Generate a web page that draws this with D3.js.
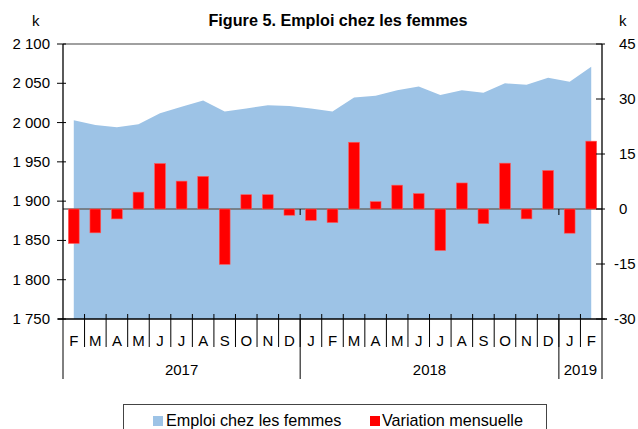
<!DOCTYPE html>
<html><head><meta charset="utf-8">
<script src="https://cdn.jsdelivr.net/npm/d3@7"></script>
<style>
body{margin:0;background:#fff;}
text{font-family:"Liberation Sans",Arial,sans-serif;fill:#000;}
</style></head>
<body><svg id="c" width="638" height="429"></svg>
<script>
const months = ["F","M","A","M","J","J","A","S","O","N","D","J","F","M","A","M","J","J","A","S","O","N","D","J","F"];
const years = [{label:"2017",start:0,end:11},{label:"2018",start:11,end:23},{label:"2019",start:23,end:25}];
const emploi = [2003,1997,1994,1998,2012,2020,2028,2014,2018,2022,2021,2018,2014,2032,2034,2041,2046,2035,2041,2038,2050,2048,2057,2052,2071];
const variation = [-9.4,-6.5,-2.7,4.6,12.4,7.6,8.9,-15.1,3.9,3.9,-1.7,-3.1,-3.7,18.2,2.0,6.5,4.2,-11.3,7.1,-4.0,12.5,-2.7,10.5,-6.6,18.5];
const leftTicks = [1750,1800,1850,1900,1950,2000,2050,2100];
const rightTicks = [-30,-15,0,15,30,45];
const title = "Figure 5. Emploi chez les femmes";
const seriesNames = ["Emploi chez les femmes","Variation mensuelle"];
const colors = {area:"#9DC3E6", bar:"#FF0000"};

const svg = d3.select("#c");
const L = 63, R = 602, T = 44, B = 319;
const idx = d3.range(months.length);
const x = d3.scaleBand().domain(idx).range([L,R]).paddingInner(0).paddingOuter(0);
const bw = x.bandwidth();
const cx = i => x(i) + bw/2;
const yL = d3.scaleLinear().domain([1750,2100]).range([B,T]);
const yR = d3.scaleLinear().domain([-30,45]).range([B,T]);
const fmtL = d => d3.format(",")(d).replace(",", " ");

// area
const area = d3.area().x((d,i)=>cx(i)).y0(B).y1(d=>yL(d));
svg.append("path").datum(emploi).attr("d",area).attr("fill",colors.area);

// top border & zero line
svg.append("line").attr("x1",L).attr("x2",R).attr("y1",T).attr("y2",T).attr("stroke","#808080").attr("stroke-width",1.5);
svg.append("line").attr("x1",L).attr("x2",R).attr("y1",yR(0)).attr("y2",yR(0)).attr("stroke","#6b6b6b").attr("stroke-width",1.5);

// bars
const barW = bw*0.5;
svg.append("g").selectAll("rect").data(variation).join("rect")
  .attr("x",(d,i)=>cx(i)-barW/2).attr("width",barW)
  .attr("y",d=>yR(Math.max(0,d))).attr("height",d=>Math.abs(yR(d)-yR(0)))
  .attr("fill",colors.bar).attr("stroke","#ff5a5a").attr("stroke-width",0.6);

// small ticks at zero line on year boundaries
years.slice(1).forEach(y=>{
  svg.append("line").attr("x1",x(y.start)).attr("x2",x(y.start)).attr("y1",yR(0)).attr("y2",yR(0)+6).attr("stroke","#000").attr("stroke-width",1);
});

// left axis
const gL = svg.append("g");
gL.append("line").attr("x1",L).attr("x2",L).attr("y1",T).attr("y2",B).attr("stroke","#000").attr("stroke-width",1.3);
leftTicks.forEach(t=>{
  gL.append("line").attr("x1",L-6).attr("x2",L+3).attr("y1",yL(t)).attr("y2",yL(t)).attr("stroke","#000").attr("stroke-width",1);
  gL.append("text").attr("x",50).attr("y",yL(t)+5).attr("text-anchor","end").attr("font-size",15).text(fmtL(t));
});
svg.append("text").attr("x",32).attr("y",26).attr("font-size",15).text("k");

// right axis
const gR = svg.append("g");
gR.append("line").attr("x1",R).attr("x2",R).attr("y1",T).attr("y2",B).attr("stroke","#000").attr("stroke-width",1.3);
rightTicks.forEach(t=>{
  gR.append("line").attr("x1",R-6).attr("x2",R+3).attr("y1",yR(t)).attr("y2",yR(t)).attr("stroke","#000").attr("stroke-width",1);
  gR.append("text").attr("x",t<0?614:619).attr("y",yR(t)+5).attr("font-size",15).text(t);
});
svg.append("text").attr("x",619).attr("y",26).attr("font-size",15).text("k");

// bottom axis
const gB = svg.append("g");
gB.append("line").attr("x1",L-5).attr("x2",R+5).attr("y1",B).attr("y2",B).attr("stroke","#000").attr("stroke-width",1.3);
idx.forEach(i=>{
  if(i>0) gB.append("line").attr("x1",x(i)).attr("x2",x(i)).attr("y1",B-5).attr("y2",347).attr("stroke","#000").attr("stroke-width",1);
  gB.append("text").attr("x",cx(i)).attr("y",346).attr("text-anchor","middle").attr("font-size",15).text(months[i]);
});
years.forEach(y=>{
  const x0 = x(y.start), x1 = y.end<months.length ? x(y.end) : R;
  gB.append("text").attr("x",(x0+x1)/2).attr("y",375).attr("text-anchor","middle").attr("font-size",15).text(y.label);
});
[0,11,23].forEach(s=>{
  gB.append("line").attr("x1",x(s)).attr("x2",x(s)).attr("y1",B).attr("y2",379).attr("stroke","#000").attr("stroke-width",1);
});
gB.append("line").attr("x1",R).attr("x2",R).attr("y1",B).attr("y2",379).attr("stroke","#000").attr("stroke-width",1);

// title
svg.append("text").attr("x",338).attr("y",26).attr("text-anchor","middle").attr("font-size",16.2).attr("font-weight","bold").text(title);

// legend
svg.append("rect").attr("x",123.5).attr("y",404.5).attr("width",423).attr("height",40).attr("fill","none").attr("stroke","#444").attr("stroke-width",1);
svg.append("rect").attr("x",153).attr("y",416).attr("width",10).attr("height",10).attr("fill",colors.area);
svg.append("text").attr("x",166).attr("y",425.5).attr("font-size",16.2).text(seriesNames[0]);
svg.append("rect").attr("x",370).attr("y",416).attr("width",10).attr("height",10).attr("fill",colors.bar);
svg.append("text").attr("x",382).attr("y",425.5).attr("font-size",16.2).text(seriesNames[1]);
</script></body></html>
